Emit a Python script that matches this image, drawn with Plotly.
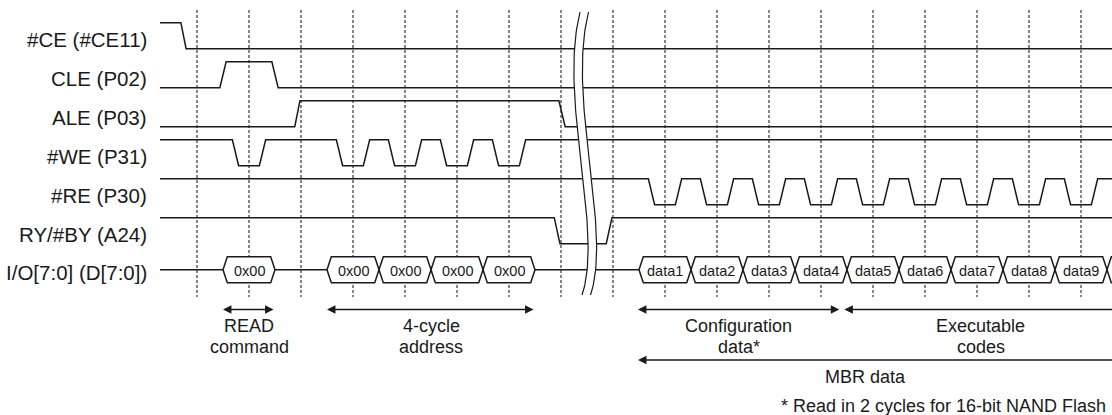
import plotly.graph_objects as go
import numpy as np

# ---------------- data ----------------
signal_labels = ["#CE (#CE11)", "CLE (P02)", "ALE (P03)", "#WE (P31)", "#RE (P30)", "RY/#BY (A24)"]
io_label = "I/O[7:0] (D[7:0])"

# initial logic levels and explicit edges (edge start cycle, edge end cycle, new level)
ce_init, ce_edges = 1, [(-0.31, -0.21, 0)]
cle_init, cle_edges = 0, [(0.44, 0.56, 1), (1.44, 1.56, 0)]
ale_init, ale_edges = 0, [(1.88, 1.98, 1), (6.96, 7.08, 0)]
ry_init, ry_edges = 1, [(6.87, 6.98, 0), (7.87, 7.98, 1)]
# strobe pulses (active-low), centred on these cycles
we_init, we_pulses = 1, [1, 3, 4, 5, 6]
re_init, re_pulses = 1, [9, 10, 11, 12, 13, 14, 15, 16, 17]

# bus values
cmd_cycles, cmd_values = [1], ["0x00"]
addr_cycles, addr_values = [3, 4, 5, 6], ["0x00", "0x00", "0x00", "0x00"]
data_cycles = [9, 10, 11, 12, 13, 14, 15, 16, 17, 18]
data_values = ["data1", "data2", "data3", "data4", "data5", "data6", "data7", "data8", "data9", ""]

grid_cycles = list(range(0, 18))

# span annotations: (line1, line2, arrow start, arrow end, text centre)
span_labels = [("READ", "command"), ("4-cycle", "address"), ("Configuration", "data*"), ("Executable", "codes")]
span_start = [0.5, 2.5, 8.48, 12.45]
span_end = [1.5, 6.5, 12.38, 18.5]
span_text_x = [1.0, 4.5, 10.42, 15.07]
mbr_label, mbr_start, mbr_end, mbr_text_x = "MBR data", 8.48, 18.5, 12.85
footnote = "* Read in 2 cycles for 16-bit NAND Flash"

# ---------------- layout constants ----------------
W, H = 1112, 415
X0_PX, CYC_PX = 197.0, 52.0


def t_of(px):
    return (px - X0_PX) / CYC_PX


T_START = t_of(160)
T_END = t_of(W) + 0.3
ROW_HIGH0, ROW_STEP, SWING = 22.7, 39.0, 26.0
PULSE_IN, PULSE_OUT = 0.32, 0.20
BEVEL = 4.3 / CYC_PX
LINE_C = "#1a1a1a"
FONT = "Liberation Sans, Arial, Helvetica, sans-serif"


def pulse_edges(centers):
    e = []
    for c in centers:
        e.append((c - PULSE_IN, c - PULSE_OUT, 0))
        e.append((c + PULSE_OUT, c + PULSE_IN, 1))
    return e


def wave(init, edges, row):
    hi = ROW_HIGH0 + ROW_STEP * row
    lo = hi + SWING
    lv = lambda v: hi if v else lo
    xs, ys = [T_START], [lv(init)]
    cur = init
    for a, b, new in edges:
        xs += [a, b]
        ys += [lv(cur), lv(new)]
        cur = new
    xs.append(T_END)
    ys.append(lv(cur))
    return xs, ys


waves = [
    (ce_init, ce_edges), (cle_init, cle_edges), (ale_init, ale_edges),
    (we_init, pulse_edges(we_pulses)), (re_init, pulse_edges(re_pulses)),
    (ry_init, ry_edges),
]

fig = go.Figure()

# dotted grid lines
gx, gy = [], []
for k in grid_cycles:
    gx += [k, k, None]
    gy += [10, 297, None]
fig.add_trace(go.Scatter(x=gx, y=gy, mode="lines", hoverinfo="skip",
                         line=dict(color="#222222", width=1.1, dash="3px,2px")))

for i, (init, edges) in enumerate(waves):
    xs, ys = wave(init, edges, i)
    fig.add_trace(go.Scatter(x=xs, y=ys, mode="lines", hoverinfo="skip",
                             line=dict(color=LINE_C, width=1.5)))

# bus
io_top = ROW_HIGH0 + ROW_STEP * 6
io_bot = io_top + SWING
io_mid = (io_top + io_bot) / 2
boxes = list(zip(cmd_cycles, cmd_values)) + list(zip(addr_cycles, addr_values)) + list(zip(data_cycles, data_values))
bx, by = [], []   # white-filled value boxes
lx_, ly_ = [], []  # idle bus line
prev_end = T_START
for c, v in boxes:
    s, e = c - 0.5, c + 0.5
    if s > prev_end + 1e-6:
        lx_ += [prev_end, s, None]
        ly_ += [io_mid, io_mid, None]
    bx += [s, s + BEVEL, e - BEVEL, e, e - BEVEL, s + BEVEL, s, None]
    by += [io_mid, io_top, io_top, io_mid, io_bot, io_bot, io_mid, None]
    prev_end = e
fig.add_trace(go.Scatter(x=lx_, y=ly_, mode="lines", hoverinfo="skip",
                         line=dict(color=LINE_C, width=1.5)))
fig.add_trace(go.Scatter(x=bx, y=by, mode="lines", fill="toself", fillcolor="white",
                         hoverinfo="skip", line=dict(color=LINE_C, width=1.5)))

# break mark (two parallel curves with white gap)
P = np.array([[580, 12], [558, 100], [604, 230], [582, 295]], dtype=float)
u = np.linspace(0, 1, 80)[:, None]
curve = ((1 - u) ** 3) * P[0] + 3 * ((1 - u) ** 2) * u * P[1] + 3 * (1 - u) * u ** 2 * P[2] + u ** 3 * P[3]
GAP = 8.5
lx = t_of(curve[:, 0]); rx = t_of(curve[:, 0] + GAP); cy = curve[:, 1]
fig.add_trace(go.Scatter(x=np.concatenate([lx, rx[::-1]]), y=np.concatenate([cy, cy[::-1]]),
                         fill="toself", fillcolor="white", mode="lines", line=dict(width=0),
                         hoverinfo="skip"))
for xx in (lx, rx):
    fig.add_trace(go.Scatter(x=xx, y=cy, mode="lines", hoverinfo="skip",
                             line=dict(color=LINE_C, width=1.2)))

ann = []
# signal labels
for i, lab in enumerate(signal_labels + [io_label]):
    y = ROW_HIGH0 + ROW_STEP * i + SWING - 8.8
    if i == 6:
        y = io_mid + 2.5
    ann.append(dict(x=t_of(149), y=y, text=lab, showarrow=False, xanchor="right",
                    yanchor="middle", font=dict(size=20.5, color=LINE_C, family=FONT)))
# bus text
for c, v in boxes:
    if v:
        ann.append(dict(x=c, y=io_mid + 1.5, text=v, showarrow=False, xanchor="center",
                        yanchor="middle", font=dict(size=14.5, color=LINE_C, family=FONT)))

# spans
ARROW_Y, TXT1_Y, TXT2_Y = 309.5, 325.5, 346.5
for (l1, l2), s, e, tx in zip(span_labels, span_start, span_end, span_text_x):
    both = e < T_END - 0.5
    ann.append(dict(x=s, y=ARROW_Y, ax=e, ay=ARROW_Y, xref="x", yref="y", axref="x", ayref="y",
                    text="", showarrow=True, arrowside="end+start" if both else "end",
                    arrowhead=2, arrowsize=1.3, arrowwidth=1.3, arrowcolor=LINE_C, standoff=0, startstandoff=0))
    ann.append(dict(x=tx, y=TXT1_Y, text=l1, showarrow=False, font=dict(size=18, color=LINE_C, family=FONT)))
    ann.append(dict(x=tx, y=TXT2_Y, text=l2, showarrow=False, font=dict(size=18, color=LINE_C, family=FONT)))

ann.append(dict(x=mbr_start, y=360, ax=mbr_end, ay=360, xref="x", yref="y", axref="x", ayref="y",
                text="", showarrow=True, arrowside="end", arrowhead=2, arrowsize=1.3,
                arrowwidth=1.3, arrowcolor=LINE_C, standoff=0))
ann.append(dict(x=mbr_text_x, y=377, text=mbr_label, showarrow=False,
                font=dict(size=18, color=LINE_C, family=FONT)))
ann.append(dict(x=t_of(1108), y=406, text=footnote, showarrow=False, xanchor="right",
                font=dict(size=18, color=LINE_C, family=FONT)))

fig.update_layout(
    width=W, height=H, margin=dict(l=0, r=0, t=0, b=0),
    paper_bgcolor="white", plot_bgcolor="white", showlegend=False,
    xaxis=dict(range=[t_of(0), t_of(W)], visible=False, fixedrange=True),
    yaxis=dict(range=[H, 0], visible=False, fixedrange=True),
    annotations=ann,
)
fig.write_html("out.html", config={"displayModeBar": False},
               post_script="document.body.style.margin='0';document.body.style.overflow='hidden';")
